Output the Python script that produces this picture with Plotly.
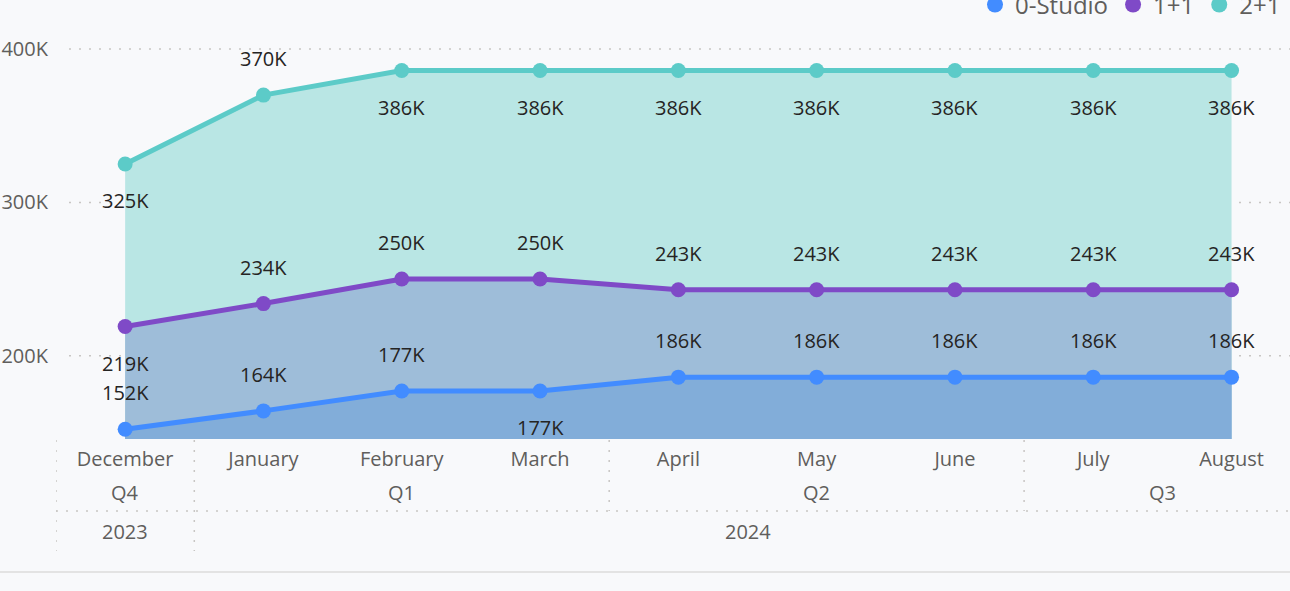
import plotly.graph_objects as go

# ---------------- data ----------------
months = ["December", "January", "February", "March", "April", "May", "June", "July", "August"]
quarters = ["Q4", "Q1", "Q1", "Q1", "Q2", "Q2", "Q2", "Q3", "Q3"]
years = ["2023", "2024", "2024", "2024", "2024", "2024", "2024", "2024", "2024"]

studio = [152, 164, 177, 177, 186, 186, 186, 186, 186]      # thousands
one_one = [219, 234, 250, 250, 243, 243, 243, 243, 243]
two_one = [325, 370, 386, 386, 386, 386, 386, 386, 386]

series_names = ["0-Studio", "1+1", "2+1"]
y_ticks = [200, 300, 400]

# label placement (style, not data)
pos_studio = ["up", "up", "up", "down", "up", "up", "up", "up", "up"]
pos_one = ["down", "up", "up", "up", "up", "up", "up", "up", "up"]
pos_two = ["down", "up", "down", "down", "down", "down", "down", "down", "down"]

# ---------------- geometry ----------------
W, H = 1290, 591
L, R, T, B = 56, 1290, 20, 439
px_per_cat = 138.3
px_per_k = 1.533
y200_px = 355.7

x_range = [-0.5, -0.5 + (R - L) / px_per_cat]
y_range = [200 - (B - y200_px) / px_per_k, 200 + (y200_px - T) / px_per_k]


def py(p):
    return (B - p) / (B - T)


def pxp(p):
    return (p - L) / (R - L)


FONT = "Open Sans"
AX_COLOR = "#605E5C"
LBL_COLOR = "#252423"
GRID = "#C8C6C4"
BG = "#F8F9FB"

line_colors = {"0-Studio": "#428CFF", "1+1": "#7F4AC7", "2+1": "#5CCBC8"}
fill_colors = {"0-Studio": "#82ADD9", "1+1": "#9EBDD9", "2+1": "#B9E6E4"}

x_idx = list(range(len(months)))

fig = go.Figure()
series = [("2+1", two_one), ("1+1", one_one), ("0-Studio", studio)]
for name, vals in series:
    fig.add_trace(go.Scatter(
        x=x_idx, y=vals, mode="lines+markers", name=name,
        fill="tozeroy", fillcolor=fill_colors[name],
        line=dict(color=line_colors[name], width=5),
        marker=dict(color=line_colors[name], size=15),
        showlegend=False, hoverinfo="skip",
    ))

# legend entries (circle only)
for name in series_names:
    fig.add_trace(go.Scatter(
        x=[None], y=[None], mode="markers", name=name,
        marker=dict(color=line_colors[name], size=18, symbol="circle"),
        showlegend=True, hoverinfo="skip",
    ))

annotations = []
for vals, poss in [(two_one, pos_two), (one_one, pos_one), (studio, pos_studio)]:
    for i, (v, p) in enumerate(zip(vals, poss)):
        annotations.append(dict(
            x=i, y=v, xref="x", yref="y", text=f"{v}K", showarrow=False,
            yanchor="middle", xanchor="center", yshift=36.5 if p == "up" else -36.5,
            font=dict(family=FONT, size=20, color=LBL_COLOR),
        ))

# quarter labels (centered over their months)
groups = []
for i, q in enumerate(quarters):
    key = (years[i], q)
    if groups and groups[-1][0] == key:
        groups[-1][2] = i
    else:
        groups.append([key, i, i])
for key, a, b in groups:
    annotations.append(dict(
        x=(a + b) / 2, y=py(492), xref="x", yref="paper", text=key[1], showarrow=False,
        yanchor="middle", font=dict(family=FONT, size=20, color=AX_COLOR)))

ygroups = []
for i, yv in enumerate(years):
    if ygroups and ygroups[-1][0] == yv:
        ygroups[-1][2] = i
    else:
        ygroups.append([yv, i, i])
for yv, a, b in ygroups:
    annotations.append(dict(
        x=(a + b) / 2, y=py(531), xref="x", yref="paper", text=yv, showarrow=False,
        yanchor="middle", font=dict(family=FONT, size=20, color=AX_COLOR)))

dot = dict(color=GRID, width=1.5, dash="2px,8px")
shapes = []
# horizontal value gridlines (start just right of the tick labels)
for v in y_ticks:
    shapes.append(dict(type="line", xref="paper", yref="y", x0=pxp(69), x1=1, y0=v, y1=v,
                       line=dot, layer="below"))
# left edge of axis table
shapes.append(dict(type="line", xref="x", yref="paper", x0=-0.5, x1=-0.5, y0=py(440), y1=py(551), line=dot))
# year boundaries
for yv, a, b in ygroups[1:]:
    shapes.append(dict(type="line", xref="x", yref="paper", x0=a - 0.5, x1=a - 0.5, y0=py(440), y1=py(551), line=dot))
year_starts = {a for _, a, _ in ygroups}
for key, a, b in groups[1:]:
    if a not in year_starts:
        shapes.append(dict(type="line", xref="x", yref="paper", x0=a - 0.5, x1=a - 0.5, y0=py(440), y1=py(511), line=dot))
shapes.append(dict(type="line", xref="x", yref="paper", x0=-0.5, x1=x_range[1], y0=py(511), y1=py(511), line=dot))
# bottom border of visual
shapes.append(dict(type="line", xref="paper", yref="paper", x0=pxp(0), x1=pxp(W), y0=py(572), y1=py(572),
                   line=dict(color="#E3E3E3", width=2)))

fig.update_layout(
    width=W, height=H,
    margin=dict(l=L, r=W - R, t=T, b=H - B, autoexpand=False),
    paper_bgcolor=BG, plot_bgcolor=BG,
    font=dict(family=FONT, size=20, color=AX_COLOR),
    showlegend=True,
    legend=dict(orientation="h", xref="container", yref="container",
                x=1286 / W, xanchor="right", y=1 - 5 / H, yanchor="middle",
                font=dict(family=FONT, size=24, color=AX_COLOR),
                bgcolor="rgba(0,0,0,0)", itemwidth=30, tracegroupgap=0),
    xaxis=dict(range=x_range, tickmode="array", tickvals=x_idx, ticktext=months,
               showgrid=False, zeroline=False, showline=False, ticks="",
               tickfont=dict(family=FONT, size=20, color=AX_COLOR),
               ticklabelstandoff=6, automargin=False, fixedrange=True),
    yaxis=dict(range=y_range, tickmode="array", tickvals=y_ticks,
               ticktext=[f"{v}K" for v in y_ticks],
               showgrid=False,
               zeroline=False, showline=False, ticks="",
               tickfont=dict(family=FONT, size=20, color=AX_COLOR),
               ticklabelstandoff=7, automargin=False, fixedrange=True),
    annotations=annotations,
    shapes=shapes,
    hovermode=False,
)

fig.write_html(
    "out.html",
    config={"displayModeBar": False},
    post_script="document.body.style.margin='0';document.body.style.background='" + BG + "';"
                "document.documentElement.style.overflow='hidden';",
)
